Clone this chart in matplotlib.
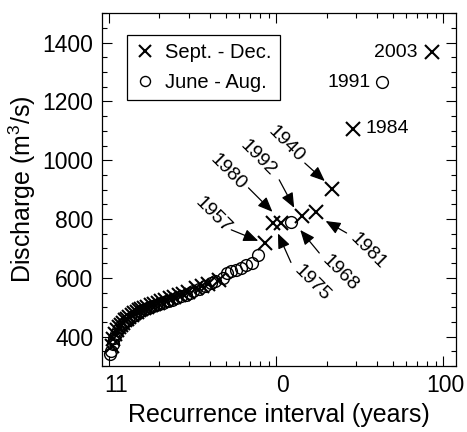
import matplotlib
matplotlib.use('Agg')
import matplotlib.pyplot as plt
from matplotlib.ticker import FixedLocator, NullFormatter
from matplotlib.transforms import ScaledTranslation

plt.rcParams['font.family'] = 'Liberation Sans'
plt.rcParams['mathtext.fontset'] = 'custom'
plt.rcParams['mathtext.rm'] = 'Liberation Sans'

# recurrence interval (years) and discharge (m3/s)
sept_T = [86, 28.7, 21.5, 17.2, 14.3, 10.75, 9.56, 8.6, 4.53, 3.91, 3.58, 3.31, 2.97,
          2.77, 2.61, 2.46, 2.32, 2.15, 2.05, 1.95, 1.87, 1.79, 1.69, 1.62, 1.56, 1.51,
          1.46, 1.41, 1.37, 1.32, 1.28, 1.25, 1.21, 1.18, 1.15, 1.12, 1.09, 1.062, 1.036]
sept_D = [1368, 1108, 902, 824, 811, 787, 785, 719, 594, 580, 573, 564, 553,
          546, 540, 534, 530, 524, 520, 516, 512, 508, 502, 498, 494, 489,
          484, 479, 473, 467, 461, 455, 447, 441, 433, 421, 408, 393, 368]
june_T = [43, 12.3, 7.82, 7.17, 6.62, 6.14, 5.73, 5.38, 5.06, 4.78, 4.30, 4.10, 3.74,
          3.44, 3.19, 3.07, 2.87, 2.69, 2.53, 2.39, 2.26, 2.21, 2.10, 2.00, 1.91, 1.83,
          1.76, 1.72, 1.65, 1.59, 1.54, 1.48, 1.43, 1.39, 1.34, 1.30, 1.27, 1.23, 1.19,
          1.16, 1.13, 1.10, 1.075, 1.049, 1.024, 1.012]
june_D = [1266, 790, 679, 651, 645, 634, 628, 622, 616, 600, 589, 583, 572,
          563, 555, 550, 543, 537, 531, 526, 522, 520, 516, 512, 508, 504,
          500, 498, 494, 490, 486, 481, 475, 470, 464, 458, 452, 445, 438,
          431, 421, 409, 395, 375, 352, 342]

# labelled floods
flood_year = ['2003', '1991', '1984', '1940', '1981', '1992', '1968', '1980', '1975', '1957']
flood_T = [86, 43, 28.7, 21.5, 17.2, 14.3, 12.3, 10.75, 9.56, 8.6]
flood_D = [1368, 1266, 1108, 902, 824, 811, 790, 787, 785, 719]

# label layout in pixels relative to the point: text offset, arrow tail, arrow tip
flat = {'2003': (-15, 0, 'right'), '1991': (-11, 0, 'right'), '1984': (13, 0, 'left')}
slanted = {
    '1940': ((-46, 45), (-27, 26), (-7, 8)),
    '1992': ((-44, 58), (-23, 36), (-8, 8)),
    '1980': ((-53, 51), (-33, 35), (-9, 11)),
    '1957': ((-52, 28), (-34, 13), (-7, 2)),
    '1975': ((39, -60), (18, -39), (5, -10)),
    '1968': ((49, -51), (28, -31), (9, -8)),
    '1981': ((52, -39), (31, -21), (10, -9)),
}

fig = plt.figure(figsize=(4.67, 4.32), dpi=100)
ax = fig.add_axes([0.2178, 0.1528, 0.7587, 0.8164])

ax.plot(sept_T, sept_D, 'x', color='k', ms=9.5, mew=1.5, label='Sept. - Dec.')
ax.plot(june_T, june_D, 'o', mfc='none', mec='k', ms=8.5, mew=1.0, label='June - Aug.')

ax.set_xscale('log')
ax.set_xlim(0.904, 119)
ax.set_ylim(300, 1500)

ax.xaxis.set_major_locator(FixedLocator([1, 10, 100]))
ax.set_xticklabels(['11', '0', '100'])
ax.xaxis.set_minor_locator(FixedLocator([2, 3, 4, 5, 6, 7, 8, 9, 20, 30, 40, 50, 60, 70, 80, 90]))
ax.xaxis.set_minor_formatter(NullFormatter())
ax.set_yticks(range(400, 1401, 200))
ax.yaxis.set_minor_locator(FixedLocator(range(300, 1501, 50)))

ax.tick_params(which='both', direction='in', top=True, right=True, width=0.8, labelsize=16.5, pad=6)
ax.tick_params(which='major', length=7.2)
ax.tick_params(which='minor', length=3.6)
for s in ax.spines.values():
    s.set_linewidth(0.9)

for lab, dx in zip(ax.get_xticklabels(), [7, 6, 2]):
    lab.set_transform(lab.get_transform() + ScaledTranslation(dx / 100, 0, fig.dpi_scale_trans))

ax.set_xlabel('Recurrence interval (years)', fontsize=18)
ax.set_ylabel('Discharge (m$^3$/s)', fontsize=18, labelpad=3)

leg = ax.legend(loc='upper left', bbox_to_anchor=(0.072, 0.9385), borderaxespad=0,
                fontsize=14.5, fancybox=False, edgecolor='k', framealpha=1,
                handlelength=1.0, handletextpad=0.5, borderpad=0.4, labelspacing=0.55,
                markerscale=0.85)
leg.get_frame().set_linewidth(0.9)

for yr, t, d in zip(flood_year, flood_T, flood_D):
    px, py = ax.transData.transform((t, d))
    if yr in flat:
        dx, dy, ha = flat[yr]
        ax.annotate(yr, (px + dx, py + dy), xycoords='figure pixels', ha=ha, va='center', fontsize=14)
    else:
        (tx, ty), (ax0, ay0), (bx, by) = slanted[yr]
        ax.annotate(yr, (px + tx, py + ty), xycoords='figure pixels', rotation=-45,
                    ha='center', va='center', fontsize=14)
        ax.annotate('', xy=(px + bx, py + by), xycoords='figure pixels',
                    xytext=(px + ax0, py + ay0), textcoords='figure pixels',
                    arrowprops=dict(arrowstyle='-|>,head_length=0.6,head_width=0.25',
                                    color='k', lw=0.9, shrinkA=0, shrinkB=0, mutation_scale=15))

fig.savefig('out.png', dpi=100)
